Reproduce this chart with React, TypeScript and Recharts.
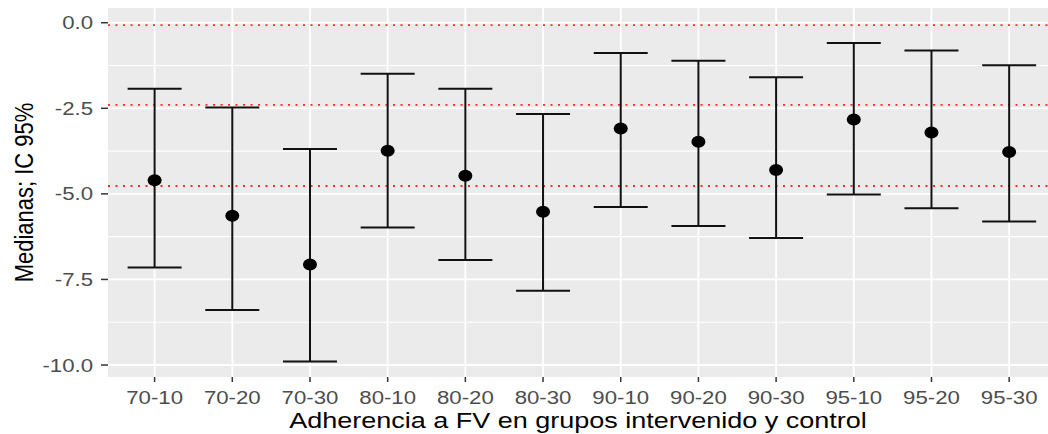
import React from "react";
import {
  ScatterChart,
  Scatter,
  XAxis,
  YAxis,
  CartesianGrid,
  ReferenceLine,
  ErrorBar,
  Label,
} from "recharts";

// Adherence group labels (intervened-control)
const categories = [
  "70-10", "70-20", "70-30", "80-10", "80-20", "80-30",
  "90-10", "90-20", "90-30", "95-10", "95-20", "95-30",
];

// Medians and 95% confidence limits per group
const medians = [-4.6, -5.64, -7.06, -3.74, -4.47, -5.52, -3.09, -3.48, -4.3, -2.83, -3.21, -3.78];
const lowerCI = [-7.15, -8.39, -9.9, -5.98, -6.93, -7.83, -5.38, -5.94, -6.29, -5.02, -5.42, -5.81];
const upperCI = [-1.93, -2.48, -3.69, -1.49, -1.93, -2.67, -0.885, -1.11, -1.59, -0.59, -0.81, -1.24];

// Dotted red reference levels
const refLevels = [-0.07, -2.4, -4.77];

// Axis ticks and grid
const yTicks = [-10, -7.5, -5, -2.5, 0];
const yMinor = [-8.75, -6.25, -3.75, -1.25];
const xTicks = categories.map((_, i) => i);

const data = categories.map((name, i) => ({
  idx: i,
  name,
  median: medians[i],
  err: [medians[i] - lowerCI[i], upperCI[i] - medians[i]],
}));

const FONT = "'Liberation Sans', Arial, sans-serif";
const STRETCH = 1.2;

const XTick = (props: any) => {
  const { x, y, payload } = props;
  return (
    <text
      transform={`translate(${x},${y + 19.5}) scale(${STRETCH},1)`}
      textAnchor="middle"
      fill="#4D4D4D"
      fontSize={18.5}
      fontFamily={FONT}
    >
      {categories[payload.value]}
    </text>
  );
};

const YTick = (props: any) => {
  const { x, y, payload } = props;
  return (
    <text
      transform={`translate(${x - 6},${y + 6.6}) scale(${STRETCH},1)`}
      textAnchor="end"
      fill="#4D4D4D"
      fontSize={18.5}
      fontFamily={FONT}
    >
      {Number(payload.value).toFixed(1)}
    </text>
  );
};

const XTitle = (props: any) => {
  const vb = props.viewBox;
  return (
    <text
      transform={`translate(${vb.x + vb.width / 2},${vb.y + 51}) scale(${STRETCH},1)`}
      textAnchor="middle"
      fill="#000"
      fontSize={22.5}
      fontFamily={FONT}
    >
      Adherencia a FV en grupos intervenido y control
    </text>
  );
};

const YTitle = (props: any) => {
  const vb = props.viewBox;
  return (
    <text
      transform={`translate(${vb.x + 33},${vb.y + vb.height / 2}) scale(${STRETCH},1) rotate(-90)`}
      textAnchor="middle"
      fill="#000"
      fontSize={22}
      fontFamily={FONT}
    >
      Medianas; IC 95%
    </text>
  );
};

const Dot = (props: any) => (
  <ellipse cx={props.cx} cy={props.cy} rx={7} ry={6} fill="#000" />
);

export default function App() {
  return (
    <div style={{ position: "absolute", left: 0, top: 0, width: 1048, height: 434, background: "#fff" }}>
      <ScatterChart
        width={1048}
        height={434}
        margin={{ top: 8, right: 0, bottom: 0, left: 0 }}
      >
        <CartesianGrid
          fill="#EBEBEB"
          stroke="#FFFFFF"
          strokeWidth={1.8}
          horizontalValues={yTicks}
          verticalValues={xTicks}
        />
        {yMinor.map((v) => (
          <ReferenceLine key={`m${v}`} y={v} stroke="#FFFFFF" strokeWidth={1.1} />
        ))}
        <XAxis
          type="number"
          dataKey="idx"
          domain={[-0.6, 11.5]}
          allowDataOverflow
          ticks={xTicks}
          interval={0}
          height={57}
          axisLine={false}
          tickSize={5}
          tickLine={{ stroke: "#333333", strokeWidth: 1.5 }}
          tick={<XTick />}
        >
          <Label content={<XTitle />} />
        </XAxis>
        <YAxis
          type="number"
          dataKey="median"
          domain={[-10.35, 0.43]}
          allowDataOverflow
          ticks={yTicks}
          interval={0}
          width={108}
          axisLine={false}
          tickSize={7}
          tickLine={{ stroke: "#333333", strokeWidth: 1.5 }}
          tick={<YTick />}
        >
          <Label content={<YTitle />} />
        </YAxis>
        {refLevels.map((v) => (
          <ReferenceLine
            key={`r${v}`}
            y={v}
            stroke="#FF2A2A"
            strokeWidth={1.8}
            strokeDasharray="2 5.5"
          />
        ))}
        <Scatter data={data} dataKey="median" shape={<Dot />} isAnimationActive={false}>
          <ErrorBar
            dataKey="err"
            direction="y"
            width={27}
            stroke="#111111"
            strokeWidth={2}
            isAnimationActive={false}
          />
        </Scatter>
      </ScatterChart>
    </div>
  );
}
